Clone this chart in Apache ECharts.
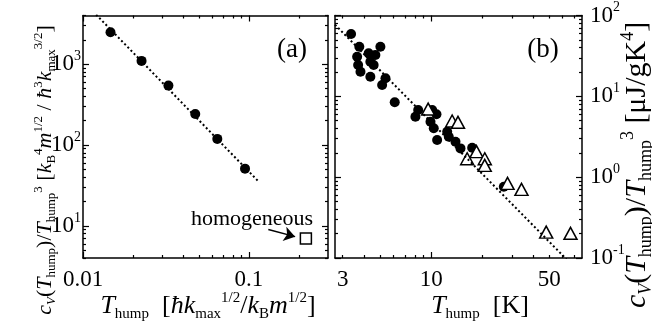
<!DOCTYPE html>
<html>
<head>
<meta charset="utf-8">
<script src="https://cdn.jsdelivr.net/npm/echarts@6/dist/echarts.min.js"></script>
<style>
  html, body { margin: 0; padding: 0; background: #fff; }
  #chart { width: 652px; height: 324px; }
</style>
</head>
<body>
<div id="chart"></div>
<script>
// ---- panel (a): reduced units ----
const tA = [0.01465, 0.02254, 0.03273, 0.0475, 0.06452, 0.0948];
const cA = [2485, 1098, 543, 242, 119, 51];
const homogT = [0.2207];
const homogC = [6.97];
const fitAT = [0.012, 0.114];
const fitAC = [4100, 35.6];
const arrowT = [0.131, 0.19];
const arrowC = [9.0, 7.35];
const rangeAX = [0.01, 0.3];
const rangeAY = [4, 4000];
const xLabelsA = [0.01, 0.1];
const yLabelsA = [10, 100, 1000];

// ---- panel (b): Kelvin ----
const tBcirc = [3.36, 3.76, 5.01, 3.65, 4.27, 4.68, 3.70, 4.37, 4.57, 3.82, 4.37, 5.37, 5.13, 6.09,
  8.38, 8.07, 10.14, 10.75, 9.91, 10.36, 10.85, 12.44, 12.71, 13.93, 14.91, 17.48, 26.9];
const cBcirc = [59.0, 41.1, 41.1, 30.9, 34.0, 32.4, 24.4, 26.8, 24.4, 20.1, 17.5, 16.7, 13.8, 8.43,
  6.77, 5.59, 6.77, 5.99, 4.85, 4.02, 2.88, 3.65, 3.16, 2.74, 2.27, 2.31, 0.761];
const tBtri = [9.60, 13.31, 14.41, 16.33, 18.54, 20.76, 20.74, 28.29, 34.22, 47.9, 66.7];
const cBtri = [6.96, 4.95, 4.77, 1.69, 2.07, 1.69, 1.40, 0.838, 0.706, 0.209, 0.202];
const fitBT = [2.7, 63];
const fitBC = [77, 0.097];
const rangeBX = [2.7, 78];
const rangeBY = [0.1, 100];
const xLabelsB = [3, 10, 50];
const yLabelsB = [0.1, 1, 10, 100];

const lg = Math.log10;
const F = 'Liberation Serif';

function logTicks(range) {
  const out = [];
  for (let e = Math.floor(lg(range[0])); e <= Math.ceil(lg(range[1])); e++) {
    for (let k = 1; k <= 9; k++) {
      const v = k * Math.pow(10, e);
      if (v >= range[0] * 0.999 && v <= range[1] * 1.001) out.push(v);
    }
  }
  return out;
}
const decades = r => logTicks(r).filter(v => Math.abs(lg(v) - Math.round(lg(v))) < 1e-9);
const minorsOf = (r, majors) => logTicks(r).filter(v => !majors.some(m => Math.abs(m - v) < 1e-9 * m));

const labelRich = {
  m: { fontFamily: F, fontSize: 23, lineHeight: 30, color: '#000' },
  s: { fontFamily: F, fontSize: 14, lineHeight: 14, verticalAlign: 'top', color: '#000' }
};
const plainFmt = labels => v => {
  const t = labels.find(x => Math.abs(lg(x) - v) < 1e-6);
  return t === undefined ? '' : '{m|' + t + '}';
};
const powFmt = v => '{m|10}{s|' + Math.round(v) + '}';

function axes(grid, range, majors, side, other, labels, fmt, margin) {
  const minors = minorsOf(range, majors);
  const base = { type: 'value', gridIndex: grid, min: lg(range[0]), max: lg(range[1]), splitLine: { show: false } };
  const line = { show: true, onZero: false, lineStyle: { color: '#000', width: 1.5 } };
  const noLine = { show: false, onZero: false };
  const tick = (vals, len) => ({ show: true, inside: true, length: len, customValues: vals.map(lg),
    lineStyle: { color: '#000', width: 1.2 } });
  return [
    { ...base, position: side, axisLine: line, axisTick: tick(majors, 6),
      axisLabel: { show: true, customValues: labels.map(lg), formatter: fmt, margin: margin, rich: labelRich } },
    { ...base, position: side, axisLine: noLine, axisTick: tick(minors, 3), axisLabel: { show: false } },
    { ...base, position: other, axisLine: line, axisTick: tick(majors, 6), axisLabel: { show: false } },
    { ...base, position: other, axisLine: noLine, axisTick: tick(minors, 3), axisLabel: { show: false } }
  ];
}

const pts = (xs, ys) => xs.map((x, i) => [lg(x), lg(ys[i])]);

function richSet(main, small) {
  const lh = Math.round(main * 1.2), sl = Math.round(small * 0.95);
  return {
    r: { fill: '#000', fontFamily: F, fontSize: main, lineHeight: lh },
    i: { fill: '#000', fontFamily: F, fontSize: main, fontStyle: 'italic', lineHeight: lh },
    sb: { fill: '#000', fontFamily: F, fontSize: small, lineHeight: sl, verticalAlign: 'bottom' },
    si: { fill: '#000', fontFamily: F, fontSize: small, fontStyle: 'italic', lineHeight: sl, verticalAlign: 'bottom' },
    sp: { fill: '#000', fontFamily: F, fontSize: small, lineHeight: sl, verticalAlign: 'top' }
  };
}
const txt = (text, x, y, rot, extra, rich) => ({
  type: 'text', x: x, y: y, rotation: rot || 0, silent: true,
  style: Object.assign({ text: text, rich: rich || richSet(25, 15), align: 'center', verticalAlign: 'middle',
    fill: '#000', fontFamily: F, fontSize: 25 }, extra || {})
});

const chart = echarts.init(document.getElementById('chart'));
chart.setOption({
  backgroundColor: '#fff',
  animation: false,
  grid: [
    { left: 83, top: 15.5, width: 245, height: 242.5 },
    { left: 335, top: 15.5, width: 247, height: 242.5 }
  ],
  xAxis: [
    ...axes(0, rangeAX, decades(rangeAX), 'bottom', 'top', xLabelsA, plainFmt(xLabelsA), 7),
    ...axes(1, rangeBX, [10], 'bottom', 'top', xLabelsB, plainFmt(xLabelsB), 7)
  ],
  yAxis: [
    ...axes(0, rangeAY, decades(rangeAY), 'left', 'right', yLabelsA, powFmt, 2),
    ...axes(1, rangeBY, decades(rangeBY), 'right', 'left', yLabelsB, powFmt, 8)
  ],
  series: [
    { type: 'line', xAxisIndex: 0, yAxisIndex: 0, data: pts(fitAT, fitAC), showSymbol: false, symbol: 'none',
      lineStyle: { color: '#000', width: 2, type: [2, 2.5] }, silent: true },
    { type: 'scatter', xAxisIndex: 0, yAxisIndex: 0, data: pts(tA, cA), symbol: 'circle', symbolSize: 10,
      itemStyle: { color: '#000', opacity: 1 } },
    { type: 'scatter', xAxisIndex: 0, yAxisIndex: 0, data: pts(homogT, homogC), symbol: 'rect', symbolSize: 11,
      itemStyle: { color: '#fff', borderColor: '#000', borderWidth: 1.5, opacity: 1 },
      markLine: { silent: true, symbol: ['none', 'arrow'], symbolSize: 11, animation: false,
        lineStyle: { color: '#000', width: 1.5, type: 'solid' }, label: { show: false },
        emphasis: { disabled: true },
        data: [[{ coord: [lg(arrowT[0]), lg(arrowC[0])] }, { coord: [lg(arrowT[1]), lg(arrowC[1])] }]] } },
    { type: 'line', xAxisIndex: 4, yAxisIndex: 4, data: pts(fitBT, fitBC), showSymbol: false, symbol: 'none',
      lineStyle: { color: '#000', width: 2, type: [2, 2.5] }, silent: true },
    { type: 'scatter', xAxisIndex: 4, yAxisIndex: 4, data: pts(tBcirc, cBcirc), symbol: 'circle', symbolSize: 10,
      itemStyle: { color: '#000', opacity: 1 } },
    { type: 'scatter', xAxisIndex: 4, yAxisIndex: 4, data: pts(tBtri, cBtri), symbol: 'triangle', symbolSize: [13, 12],
      itemStyle: { color: '#fff', borderColor: '#000', borderWidth: 1.5, opacity: 1 } }
  ],
  graphic: [
    txt('(a)', 292, 50, 0, { fontSize: 27 }),
    txt('(b)', 543, 50, 0, { fontSize: 27 }),
    txt('homogeneous', 252, 219, 0, { fontSize: 22 }),
    txt('{i|T}{sb|hump}{r|  [}{i|ħk}{sb|max}{sp|1/2}{r|/}{i|k}{sb|B}{i|m}{sp|1/2}{r|]}', 208, 306, 0, null, richSet(26, 15)),
    txt('{i|T}{sb|hump}{r|  [K]}', 480, 306, 0, null, richSet(26, 15)),
    txt('{i|c}{si|V}{r|(}{i|T}{sb|hump}{r|)/}{i|T}{sb|hump}{sp|3}{r| [}{i|k}{sb|B}{sp|4}{i|m}{sp|1/2}{r| / }{i|ħ}{sp|3}{i|k}{sb|max}{sp|3/2}{r|]}',
      45, 170, Math.PI / 2, null, richSet(22, 13)),
    txt('{i|c}{si|V}{r|(}{i|T}{sb|hump}{r|)/}{i|T}{sb|hump}{sp|3}{r| [μJ/gK}{sp|4}{r|]}',
      637, 165, Math.PI / 2, null, richSet(30, 18))
  ]
});
</script>
</body>
</html>
